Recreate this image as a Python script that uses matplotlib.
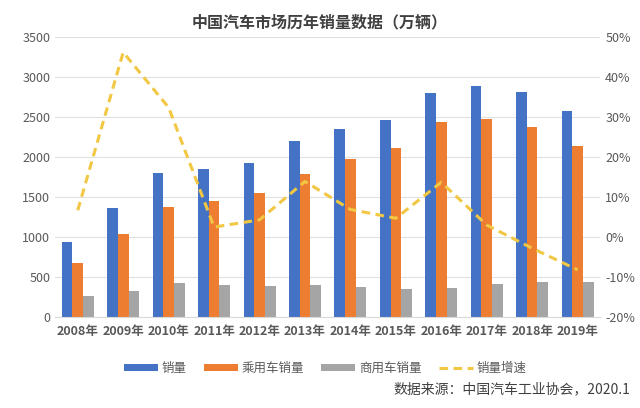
import numpy as np
import matplotlib
matplotlib.use('Agg')
import matplotlib.pyplot as plt
from matplotlib.ticker import FuncFormatter

plt.rcParams['font.family'] = ['Noto Sans CJK SC', 'DejaVu Sans']

# data (万辆)
years = ['2008年', '2009年', '2010年', '2011年', '2012年', '2013年',
         '2014年', '2015年', '2016年', '2017年', '2018年', '2019年']
total = [938, 1364, 1806, 1851, 1931, 2198, 2349, 2460, 2803, 2888, 2808, 2577]
passenger = [676, 1033, 1376, 1447, 1550, 1793, 1970, 2115, 2438, 2472, 2371, 2144]
commercial = [262, 331, 430, 403, 382, 405, 379, 345, 365, 416, 437, 432]
growth = [6.7, 46.2, 32.4, 2.5, 4.3, 13.9, 6.9, 4.7, 13.7, 3.0, -2.8, -8.2]

fig = plt.figure(figsize=(6.4, 4.08), dpi=100)
ax = fig.add_axes([0.086, 0.223, 0.852, 0.686])
axb = ax.twinx()

x = np.arange(len(years))
w = 0.235
ax.bar(x - w, total, w, color='#4472C4', label='销量', zorder=2)
ax.bar(x, passenger, w, color='#ED7D31', label='乘用车销量', zorder=2)
ax.bar(x + w, commercial, w, color='#A5A5A5', label='商用车销量', zorder=2)
axb.plot(x, growth, color='#F2C744', lw=2.2, ls=(0, (2.8, 1.8)), label='销量增速', zorder=3)

ax.set_ylim(0, 3500)
ax.set_yticks(range(0, 3501, 500))
axb.set_ylim(-20, 50)
axb.set_yticks(range(-20, 51, 10))
axb.yaxis.set_major_formatter(FuncFormatter(lambda v, p: f'{v:.0f}%'))
ax.set_xlim(-0.5, len(years) - 0.5)
ax.set_xticks(x)
ax.set_xticklabels(years, fontweight='bold', fontsize=9.5, color='#404040')

ax.grid(axis='y', color='#E0E0E0', lw=0.8, zorder=0)
for a in (ax, axb):
    for s in a.spines.values():
        s.set_visible(False)
    a.tick_params(length=0, labelsize=9, labelcolor='#595959')
ax.spines['bottom'].set_visible(True)
ax.spines['bottom'].set_color('#D9D9D9')
ax.tick_params(axis='x', pad=6)

fig.text(0.5, 0.945, '中国汽车市场历年销量数据（万辆）', ha='center', va='center',
         fontsize=11.5, fontweight='bold', color='#404040')

h1, l1 = ax.get_legend_handles_labels()
h2, l2 = axb.get_legend_handles_labels()
fig.legend(h1 + h2, l1 + l2, loc='center', bbox_to_anchor=(0.508, 0.098), ncol=4,
           frameon=False, fontsize=9, handlelength=2.7, handleheight=0.5,
           handletextpad=0.3, columnspacing=1.4, labelcolor='#595959')

fig.text(0.985, 0.045, '数据来源：中国汽车工业协会，2020.1', ha='right', va='center',
         fontsize=10, color='#404040')

fig.savefig('out.png', dpi=100)
